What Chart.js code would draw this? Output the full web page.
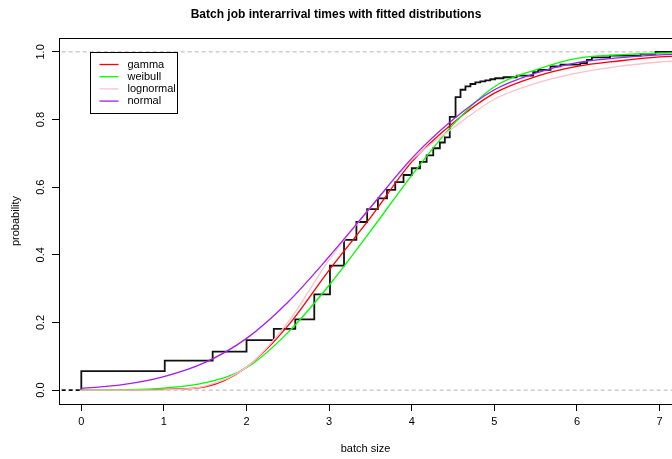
<!DOCTYPE html>
<html>
<head>
<meta charset="utf-8">
<script src="https://cdn.jsdelivr.net/npm/chart.js@4.4.0/dist/chart.umd.min.js"></script>
<style>
  html, body { margin: 0; padding: 0; background: #fff; overflow: hidden; }
</style>
</head>
<body>
<canvas id="ecdfChart" width="672" height="459"></canvas>
<script>
// tick labels
const xTicks = [0, 1, 2, 3, 4, 5, 6, 7];
const yTicks = [0, 0.2, 0.4, 0.6, 0.8, 1.0];

// empirical CDF: jump positions and level after each jump
const ecdfX = [0, 1.01, 1.59, 2.0, 2.33, 2.59, 2.82, 3.01, 3.18, 3.33, 3.46, 3.59, 3.70, 3.80, 3.90,
  4.00, 4.10, 4.18, 4.26, 4.34, 4.40, 4.46, 4.53, 4.59, 4.65, 4.71, 4.77, 4.83, 4.89, 4.95,
  5.01, 5.11, 5.27, 5.47, 5.53, 5.68, 5.80, 6.04, 6.12, 6.18, 6.40, 6.77, 6.95];
const ecdfY = [0.056, 0.087, 0.114, 0.148, 0.181, 0.209, 0.283, 0.368, 0.444, 0.497, 0.535, 0.567, 0.592, 0.615, 0.636,
  0.656, 0.675, 0.694, 0.715, 0.732, 0.747, 0.808, 0.866, 0.888, 0.898, 0.905, 0.910, 0.913, 0.916, 0.919,
  0.922, 0.925, 0.930, 0.940, 0.947, 0.957, 0.962, 0.967, 0.976, 0.984, 0.989, 0.994, 1.0];

// fitted curves
const curveX     = [0, 0.5, 1, 1.5, 2, 2.5, 3, 3.5, 4, 4.5, 5, 5.5, 6, 6.5, 7, 7.5];
const gammaY     = [0, 0, 0.002, 0.010, 0.068, 0.19, 0.355, 0.51, 0.675, 0.79, 0.878, 0.927, 0.957, 0.973, 0.985, 0.990];
const weibullY   = [0, 0.001, 0.006, 0.022, 0.066, 0.17, 0.31, 0.47, 0.635, 0.785, 0.897, 0.947, 0.981, 0.991, 0.996, 0.998];
const lognormalY = [0, 0, 0.001, 0.012, 0.068, 0.20, 0.385, 0.54, 0.68, 0.775, 0.86, 0.907, 0.937, 0.957, 0.970, 0.978];
const normalY    = [0.005, 0.016, 0.040, 0.082, 0.153, 0.26, 0.395, 0.54, 0.685, 0.80, 0.888, 0.937, 0.968, 0.982, 0.991, 0.995];

const legendNames = ['gamma', 'weibull', 'lognormal', 'normal'];
const legendColors = ['#ff0000', '#00ff00', '#ffc0cb', '#a020f0'];

const font = 'Liberation Sans, Arial, Helvetica, sans-serif';

const pts = (xs, ys) => xs.map((x, i) => ({ x: x, y: ys[i] }));

function curve(label, ys, color) {
  return {
    label: label,
    data: pts(curveX, ys),
    borderColor: color,
    borderWidth: 1.3,
    pointRadius: 0,
    cubicInterpolationMode: 'monotone',
    fill: false
  };
}

const ecdfData = [{ x: -1, y: 0 }, { x: 0, y: 0 }].concat(pts(ecdfX, ecdfY), [{ x: 8, y: 1 }]);

const frameAndLegend = {
  id: 'frameAndLegend',
  afterDatasetsDraw(chart) {
    const ctx = chart.ctx;
    const a = chart.chartArea;
    ctx.save();
    ctx.strokeStyle = '#000';
    ctx.lineWidth = 1;
    ctx.beginPath();
    ctx.moveTo(a.left, a.top + 0.5);
    ctx.lineTo(a.right + 5, a.top + 0.5);
    ctx.stroke();

    // legend box
    const bx = a.left + 31.5, by = a.top + 14.5, bw = 87, bh = 61;
    ctx.fillStyle = '#fff';
    ctx.fillRect(bx, by, bw, bh);
    ctx.strokeRect(bx, by, bw, bh);
    ctx.font = '11px ' + font;
    ctx.textBaseline = 'middle';
    ctx.textAlign = 'left';
    legendNames.forEach((name, i) => {
      const y = by + 12 + i * 12.2;
      ctx.strokeStyle = legendColors[i];
      ctx.lineWidth = 1.3;
      ctx.beginPath();
      ctx.moveTo(bx + 9, y);
      ctx.lineTo(bx + 28, y);
      ctx.stroke();
      ctx.fillStyle = '#000';
      ctx.fillText(name, bx + 37, y);
    });
    ctx.restore();
  }
};

new Chart(document.getElementById('ecdfChart'), {
  type: 'line',
  data: {
    datasets: [
      curve('normal', normalY, '#a020f0'),
      curve('lognormal', lognormalY, '#ffc0cb'),
      curve('weibull', weibullY, '#00ff00'),
      curve('gamma', gammaY, '#ff0000'),
      {
        label: 'ecdf',
        data: ecdfData,
        stepped: true,
        borderColor: '#111',
        borderWidth: 1.8,
        pointRadius: 0,
        fill: false,
        segment: {
          borderDash: ctx => ctx.p0DataIndex === 0 ? [4, 3] : undefined
        }
      },
      {
        label: 'zero',
        data: [{ x: -1, y: 0 }, { x: 8, y: 0 }],
        borderColor: '#b3b3b3',
        borderWidth: 1,
        borderDash: [4, 3],
        pointRadius: 0
      },
      {
        label: 'one',
        data: [{ x: -1, y: 1 }, { x: 8, y: 1 }],
        borderColor: '#b3b3b3',
        borderWidth: 1,
        borderDash: [4, 3],
        pointRadius: 0
      }
    ]
  },
  options: {
    responsive: false,
    animation: false,
    layout: { padding: 0 },
    plugins: {
      legend: { display: false },
      tooltip: { enabled: false },
      title: {
        display: true,
        text: 'Batch job interarrival times with fitted distributions',
        color: '#000',
        font: { family: font, size: 12, weight: 'bold' },
        padding: { top: 7, bottom: 16.6 }
      }
    },
    scales: {
      x: {
        type: 'linear',
        min: -0.27,
        max: 7.15,
        afterBuildTicks: s => { s.ticks = xTicks.map(v => ({ value: v })); },
        afterFit: s => { s.height = 55; },
        grid: { drawOnChartArea: false, drawTicks: true, tickLength: 7, color: '#000' },
        border: { display: true, color: '#000', width: 1 },
        ticks: {
          color: '#000',
          padding: 4,
          maxRotation: 0,
          font: { family: font, size: 11 },
          callback: v => String(v)
        },
        title: {
          display: true,
          text: 'batch size',
          color: '#000',
          font: { family: font, size: 11 },
          padding: { top: 0, bottom: 3.4 }
        }
      },
      y: {
        type: 'linear',
        min: -0.041,
        max: 1.041,
        afterBuildTicks: s => { s.ticks = yTicks.map(v => ({ value: v })); },
        afterFit: s => { s.width = 59; },
        grid: { drawOnChartArea: false, drawTicks: true, tickLength: 7, color: '#000' },
        border: { display: true, color: '#000', width: 1 },
        ticks: {
          color: '#000',
          padding: 3,
          minRotation: 90,
          maxRotation: 90,
          crossAlign: 'center',
          font: { family: font, size: 11 },
          callback: v => v.toFixed(1)
        },
        title: {
          display: true,
          text: 'probability',
          color: '#000',
          font: { family: font, size: 11 },
          padding: { top: 9.4, bottom: 0 }
        }
      }
    }
  },
  plugins: [frameAndLegend]
});
</script>
</body>
</html>
